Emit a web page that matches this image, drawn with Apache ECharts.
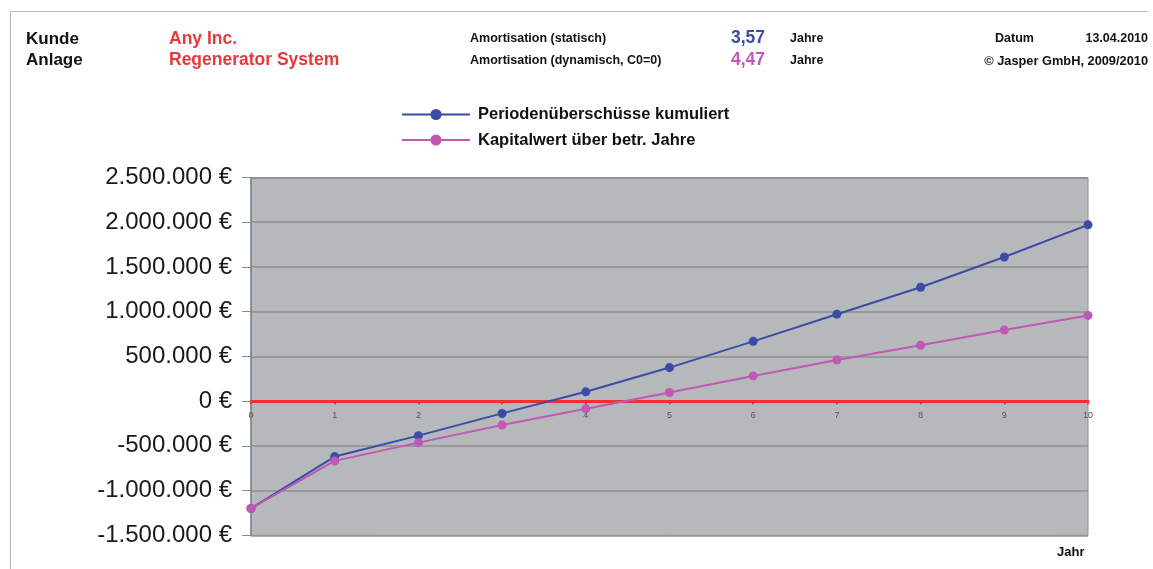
<!DOCTYPE html>
<html>
<head>
<meta charset="utf-8">
<title>Amortisation – Regenerator System</title>
<script src="https://cdn.jsdelivr.net/npm/echarts@6/dist/echarts.min.js"></script>
<style>
  html, body { margin: 0; padding: 0; background: #ffffff; }
  #chart { width: 1153px; height: 569px; }
</style>
</head>
<body>
<div id="chart"></div>
<script>
// Years of the evaluation period
const years = ['0', '1', '2', '3', '4', '5', '6', '7', '8', '9', '10'];

// Cumulated period surpluses (EUR)
const cumulativeSurplus = [-1200000, -620000, -386000, -137000, 104000, 375000, 668000, 972000, 1273000, 1611000, 1971000];

// Net present value over the respective years (EUR)
const netPresentValue = [-1200000, -668000, -464000, -267000, -86000, 97000, 282000, 460000, 624000, 794000, 958000];

// Value axis range and step (EUR)
const yMin = -1500000;
const yMax = 2500000;
const yStep = 500000;

// Header information
const customer = 'Any Inc.';
const plant = 'Regenerator System';
const paybackStatic = '3,57';
const paybackDynamic = '4,47';
const reportDate = '13.04.2010';
const copyright = '© Jasper GmbH, 2009/2010';

const seriesNames = ['Periodenüberschüsse kumuliert', 'Kapitalwert über betr. Jahre'];

const FONT = '"Liberation Sans", Arial, sans-serif';
const BLUE = '#3a4ca6';
const PINK = '#c158b5';
const RED = '#e63a3a';

// Plot area geometry
const GRID_TOP = 177.5;
const GRID_BOTTOM = 33.7;
const CHART_H = 569;
const plotH = CHART_H - GRID_TOP - GRID_BOTTOM;
// distance from the bottom edge of the plot up to the zero line
const zeroOffset = plotH * (0 - yMin) / (yMax - yMin);

function euro(v) {
  const neg = v < 0;
  const s = String(Math.abs(Math.round(v))).replace(/\B(?=(\d{3})+(?!\d))/g, '.');
  return (neg ? '-' : '') + s + ' €';
}

function label(text, x, y, opts) {
  const o = opts || {};
  const align = o.align || 'left';
  return {
    type: 'text',
    x: x,
    y: y,
    silent: true,
    style: {
      text: text,
      font: (o.weight || 'bold') + ' ' + (o.size || 12) + 'px ' + FONT,
      fill: o.color || '#111111',
      align: align,
      textAlign: align,
      verticalAlign: 'middle',
      textVerticalAlign: 'middle'
    }
  };
}

const chart = echarts.init(document.getElementById('chart'), null, { renderer: 'canvas' });

chart.setOption({
  animation: false,
  backgroundColor: '#ffffff',
  textStyle: { fontFamily: FONT },
  graphic: [
    // page frame
    { type: 'line', silent: true, shape: { x1: 10, y1: 11.5, x2: 1148, y2: 11.5 }, style: { stroke: '#b4bcbc', lineWidth: 1 } },
    { type: 'line', silent: true, shape: { x1: 10.5, y1: 11, x2: 10.5, y2: 569 }, style: { stroke: '#b4bcbc', lineWidth: 1 } },
    // header block
    label('Kunde', 26, 39, { size: 17 }),
    label('Anlage', 26, 60, { size: 17 }),
    label(customer, 169, 39, { size: 17.5, color: RED }),
    label(plant, 169, 60, { size: 17.5, color: RED }),
    label('Amortisation (statisch)', 470, 39, { size: 12.5 }),
    label('Amortisation (dynamisch, C0=0)', 470, 61, { size: 12.5 }),
    label(paybackStatic, 731, 38, { size: 17.5, color: BLUE }),
    label(paybackDynamic, 731, 60, { size: 17.5, color: PINK }),
    label('Jahre', 790, 39, { size: 12.5 }),
    label('Jahre', 790, 61, { size: 12.5 }),
    label('Datum', 995, 39, { size: 12.5 }),
    label(reportDate, 1148, 39, { size: 12.5, align: 'right' }),
    label(copyright, 1148, 61, { size: 12.8, align: 'right' }),
    // x axis title
    label('Jahr', 1057, 552, { size: 13 })
  ],
  legend: {
    orient: 'vertical',
    left: 401,
    top: 106,
    padding: 0,
    itemWidth: 68,
    itemHeight: 14,
    itemGap: 8.5,
    data: seriesNames,
    textStyle: {
      fontFamily: FONT,
      fontSize: 16.5,
      fontWeight: 'bold',
      color: '#111111',
      padding: [0, 0, 0, 3]
    }
  },
  grid: {
    left: 251,
    right: 65,
    top: GRID_TOP,
    bottom: GRID_BOTTOM,
    show: true,
    backgroundColor: '#b6b9bc',
    borderColor: '#8f9295',
    borderWidth: 1,
    containLabel: false
  },
  xAxis: {
    type: 'category',
    data: years,
    boundaryGap: false,
    position: 'bottom',
    offset: -zeroOffset,
    axisLine: { onZero: false, lineStyle: { color: '#f0302a', width: 3 } },
    axisTick: { show: true, length: 3, lineStyle: { color: '#f0302a', width: 2 } },
    axisLabel: { color: '#555555', fontSize: 9, margin: 10, fontFamily: FONT },
    splitLine: { show: false }
  },
  yAxis: {
    type: 'value',
    min: yMin,
    max: yMax,
    interval: yStep,
    axisLine: { show: true, lineStyle: { color: '#808386', width: 1.5 } },
    axisTick: { show: true, length: 9, lineStyle: { color: '#8a8d90', width: 1 } },
    axisLabel: {
      formatter: euro,
      fontSize: 24,
      color: '#1a1a1a',
      margin: 19,
      fontFamily: FONT
    },
    splitLine: { show: true, lineStyle: { color: '#8d9093', width: 1.5 } }
  },
  series: [
    {
      name: seriesNames[0],
      type: 'line',
      data: cumulativeSurplus,
      symbol: 'circle',
      symbolSize: 9,
      lineStyle: { color: BLUE, width: 2 },
      itemStyle: { color: BLUE },
      z: 3
    },
    {
      name: seriesNames[1],
      type: 'line',
      data: netPresentValue,
      symbol: 'circle',
      symbolSize: 9,
      lineStyle: { color: PINK, width: 2 },
      itemStyle: { color: PINK },
      z: 4
    }
  ]
});
</script>
</body>
</html>
